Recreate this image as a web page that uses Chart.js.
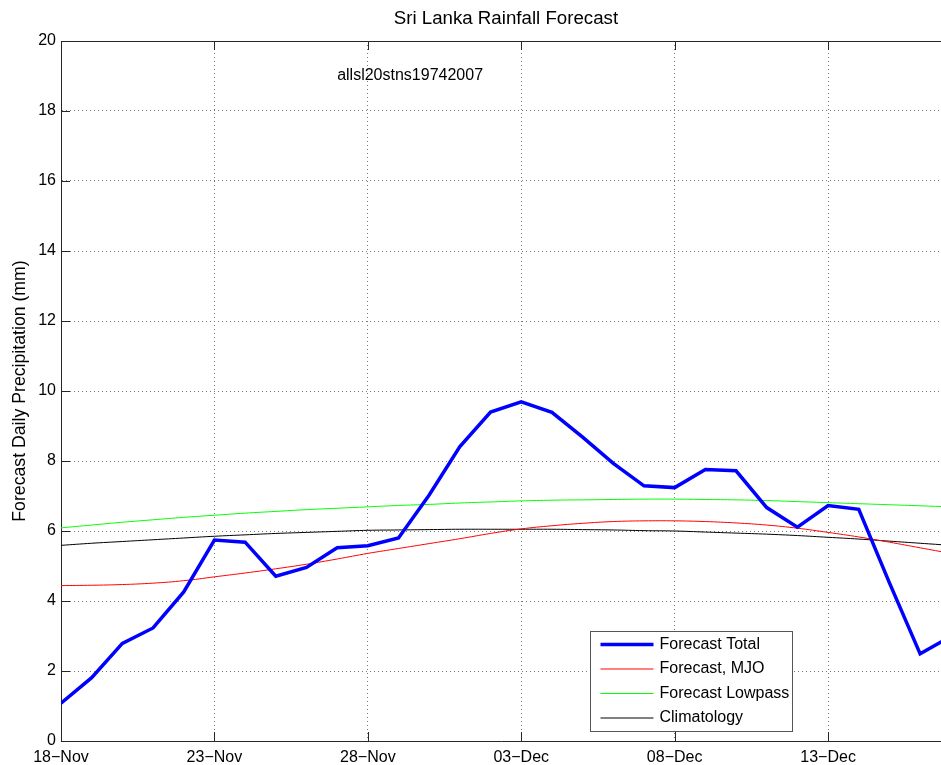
<!DOCTYPE html>
<html>
<head>
<meta charset="utf-8">
<title>Sri Lanka Rainfall Forecast</title>
<script src="https://cdn.jsdelivr.net/npm/chart.js@4.4.0/dist/chart.umd.min.js"></script>
<style>
  html, body { margin: 0; padding: 0; background: #fff; }
  canvas { display: block; }
</style>
</head>
<body>
<canvas id="chart" width="941" height="765"></canvas>
<script>
// days since 18-Nov
const days = [0, 1, 2, 3, 4, 5, 6, 7, 8, 9, 10, 11, 12, 13, 14, 15, 16, 17, 18, 19, 20, 21, 22, 23, 24, 25, 26, 27, 28, 29];

const forecastTotal = [1.08, 1.81, 2.79, 3.23, 4.26, 5.74, 5.68, 4.71, 4.96, 5.52, 5.58, 5.80, 7.03, 8.41, 9.40, 9.69, 9.39, 8.68, 7.93, 7.29, 7.24, 7.76, 7.72, 6.67, 6.11, 6.73, 6.62, 4.52, 2.49, 2.99];
const forecastMJO = [4.44, 4.45, 4.47, 4.51, 4.58, 4.69, 4.80, 4.92, 5.05, 5.20, 5.36, 5.50, 5.64, 5.78, 5.93, 6.06, 6.15, 6.22, 6.27, 6.29, 6.29, 6.27, 6.23, 6.17, 6.08, 5.96, 5.83, 5.68, 5.52, 5.36];
const forecastLowpass = [6.09, 6.17, 6.25, 6.32, 6.39, 6.45, 6.51, 6.56, 6.61, 6.65, 6.69, 6.73, 6.76, 6.80, 6.83, 6.86, 6.88, 6.89, 6.90, 6.91, 6.91, 6.90, 6.89, 6.87, 6.84, 6.81, 6.78, 6.75, 6.72, 6.69];
const climatology = [5.59, 5.65, 5.70, 5.75, 5.80, 5.85, 5.89, 5.93, 5.96, 5.99, 6.02, 6.03, 6.04, 6.05, 6.05, 6.05, 6.05, 6.04, 6.03, 6.01, 6.00, 5.97, 5.94, 5.91, 5.87, 5.82, 5.77, 5.71, 5.65, 5.59];

const tickDays = [0, 5, 10, 15, 20, 25];
const tickLabels = ['18\u2212Nov', '23\u2212Nov', '28\u2212Nov', '03\u2212Dec', '08\u2212Dec', '13\u2212Dec'];
const yTicks = [0, 2, 4, 6, 8, 10, 12, 14, 16, 18, 20];

const chartTitle = 'Sri Lanka Rainfall Forecast';
const stationNote = 'allsl20stns19742007';
const noteAt = { x: 9, y: 19 };
const lastDay = 29;     // full axis runs to day 29
const visibleMax = 28.68; // the window cuts the axis just short of it

const FONT = 'Liberation Sans, Arial, Helvetica, sans-serif';
Chart.defaults.font.family = FONT;
Chart.defaults.font.size = 16;
Chart.defaults.color = '#000';

const pts = ys => ys.map((y, i) => ({ x: days[i], y }));

// title, frame, inward ticks, station note and the boxed legend
const extras = {
  id: 'extras',
  afterDraw(chart) {
    const { ctx, chartArea: a, scales: { x, y } } = chart;
    const axisRight = x.getPixelForValue(lastDay);
    ctx.save();

    ctx.fillStyle = '#000';
    ctx.font = '18.7px ' + FONT;
    ctx.textAlign = 'center';
    ctx.textBaseline = 'middle';
    ctx.fillText(chartTitle, (a.left + axisRight) / 2, 19);

    ctx.font = '16px ' + FONT;
    ctx.textAlign = 'left';
    ctx.fillText(stationNote, x.getPixelForValue(noteAt.x), y.getPixelForValue(noteAt.y));

    ctx.strokeStyle = '#262626';
    ctx.lineWidth = 1;
    ctx.beginPath();
    ctx.moveTo(a.left, a.top + 0.5);
    ctx.lineTo(a.right, a.top + 0.5);
    tickDays.forEach(d => {
      const px = Math.round(x.getPixelForValue(d)) + 0.5;
      ctx.moveTo(px, a.bottom); ctx.lineTo(px, a.bottom - 9);
      ctx.moveTo(px, a.top); ctx.lineTo(px, a.top + 9);
    });
    yTicks.forEach(v => {
      const py = Math.round(y.getPixelForValue(v)) + 0.5;
      ctx.moveTo(a.left, py); ctx.lineTo(a.left + 9, py);
    });
    ctx.stroke();

    // legend box
    const bw = 202, bh = 100;
    const bx = Math.round(axisRight - 159 - bw) + 0.5;
    const by = a.bottom - 10 - bh + 0.5;
    ctx.fillStyle = '#fff';
    ctx.fillRect(bx, by, bw, bh);
    ctx.strokeStyle = '#555';
    ctx.strokeRect(bx, by, bw, bh);
    chart.data.datasets.forEach((ds, i) => {
      const ry = by + 13 + i * 24.5;
      ctx.strokeStyle = ds.borderColor;
      ctx.lineWidth = ds.borderWidth;
      ctx.beginPath();
      ctx.moveTo(bx + 10, ry);
      ctx.lineTo(bx + 63, ry);
      ctx.stroke();
      ctx.fillStyle = '#000';
      ctx.fillText(ds.label, bx + 69, ry);
    });
    ctx.restore();
  }
};

const ctx = document.getElementById('chart').getContext('2d');
new Chart(ctx, {
  type: 'line',
  data: {
    datasets: [
      { label: 'Forecast Total', data: pts(forecastTotal), borderColor: '#0000ff', borderWidth: 3.5, tension: 0 },
      { label: 'Forecast, MJO', data: pts(forecastMJO), borderColor: '#ff0000', borderWidth: 1, tension: 0.4 },
      { label: 'Forecast Lowpass', data: pts(forecastLowpass), borderColor: '#00ff00', borderWidth: 1, tension: 0.4 },
      { label: 'Climatology', data: pts(climatology), borderColor: '#000000', borderWidth: 1, tension: 0.4 }
    ]
  },
  options: {
    responsive: false,
    animation: false,
    devicePixelRatio: 1,
    layout: { padding: { top: 41, right: 0, left: 0, bottom: 0 } },
    elements: { point: { radius: 0 } },
    plugins: {
      legend: { display: false },
      tooltip: { enabled: false },
      title: { display: false }
    },
    scales: {
      x: {
        type: 'linear',
        min: 0,
        max: visibleMax,
        afterBuildTicks: s => { s.ticks = tickDays.map(v => ({ value: v })); },
        afterFit: s => { s.height = 24; },
        ticks: {
          autoSkip: false,
          maxRotation: 0,
          padding: 7,
          callback: v => tickLabels[tickDays.indexOf(v)] || ''
        },
        grid: { color: '#777', lineWidth: 1, drawTicks: false },
        border: { display: true, color: '#262626', width: 1, dash: [1, 3] }
      },
      y: {
        min: 0,
        max: 20,
        afterBuildTicks: s => { s.ticks = yTicks.map(v => ({ value: v })); },
        afterFit: s => { s.width = 61; },
        ticks: { padding: 5 },
        grid: { color: '#777', lineWidth: 1, drawTicks: false },
        border: { display: true, color: '#262626', width: 1, dash: [1, 3] },
        title: {
          display: true,
          text: 'Forecast Daily Precipitation (mm)',
          font: { size: 17.7 },
          padding: { top: 9, bottom: 0 }
        }
      }
    }
  },
  plugins: [extras]
});
</script>
</body>
</html>
